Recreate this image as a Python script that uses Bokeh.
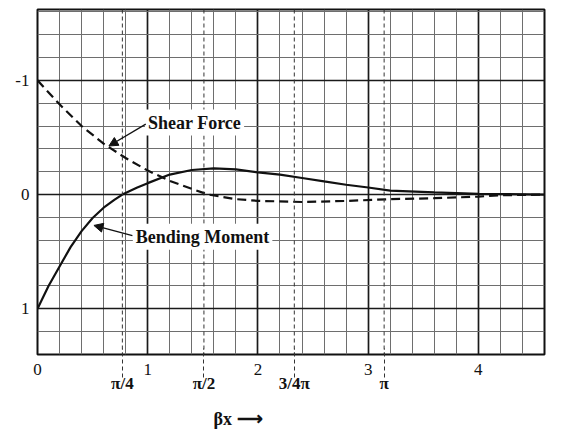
from bokeh.plotting import figure
from bokeh.models import (Range1d, FixedTicker, Label, Arrow, NormalHead,
                          Span, LinearAxis)
from bokeh.embed import file_html
from bokeh.resources import INLINE

# ---- data ----
x_ticks = [0, 1, 2, 3, 4]
x_minor = [0.2, 0.4, 0.6, 0.8, 1.2, 1.4, 1.6, 1.8, 2.2, 2.4, 2.6, 2.8,
           3.2, 3.4, 3.6, 3.8, 4.2, 4.4]
y_ticks = [-1, 0, 1]
y_tick_labels = {-1: "-1", 0: "0", 1: "1"}
y_minor = [-1.6, -1.4, -1.2, -0.8, -0.6, -0.4, -0.2, 0.2, 0.4, 0.6, 0.8, 1.2]

# dashed marker lines as drawn (nominally pi/4, pi/2, 3pi/4, pi)
pi_positions = [0.77, 1.51, 2.33, 3.145]
pi_labels = ["π/4", "π/2", "3/4π", "π"]

axis_title_pos = [1.82]
axis_title = "βx ⟶"

bend_x = [0, 0.1, 0.2, 0.3, 0.4, 0.5, 0.6, 0.7, 0.77, 0.9, 1.0, 1.2, 1.4,
          1.6, 1.8, 2.0, 2.2, 2.4, 2.6, 2.8, 3.0, 3.2, 3.6, 4.0, 4.6]
bend_y = [1.0, 0.80, 0.63, 0.46, 0.32, 0.205, 0.115, 0.045, 0.0, -0.06,
          -0.10, -0.175, -0.215, -0.23, -0.22, -0.195, -0.174, -0.145,
          -0.115, -0.086, -0.062, -0.035, -0.02, -0.006, 0.0]

shear_x = [0, 0.2, 0.4, 0.6, 0.8, 1.0, 1.2, 1.4, 1.55, 1.8, 2.0, 2.4, 2.8,
           3.2, 3.6, 4.0, 4.2, 4.6]
shear_y = [-1.0, -0.79, -0.60, -0.445, -0.32, -0.21, -0.12, -0.05, 0.0, 0.04,
           0.055, 0.065, 0.056, 0.04, 0.032, 0.018, 0.006, 0.0]

SERIF = "Liberation Serif"
INK = "#111111"

p = figure(width=587, height=432, x_range=Range1d(0, 4.6),
           y_range=Range1d(1.4, -1.62), output_backend="svg",
           toolbar_location=None, min_border_left=37, min_border_right=43,
           min_border_top=9, min_border_bottom=78)
p.background_fill_color = "white"
p.border_fill_color = "white"
p.outline_line_color = INK
p.outline_line_width = 2

# grids
p.xgrid.ticker = FixedTicker(ticks=x_ticks, minor_ticks=x_minor)
p.ygrid.ticker = FixedTicker(ticks=y_ticks, minor_ticks=y_minor)
for g in (p.xgrid, p.ygrid):
    g.grid_line_color = "#1a1a1a"
    g.grid_line_width = 1.7
    g.grid_line_alpha = 1.0
    g.minor_grid_line_color = "#6e6e6e"
    g.minor_grid_line_width = 1


def style_axis(ax):
    ax.axis_line_color = None
    ax.major_tick_out = 0
    ax.major_tick_in = 0
    ax.minor_tick_out = 0
    ax.minor_tick_in = 0
    ax.major_label_text_font = SERIF
    ax.major_label_text_font_size = "17px"
    ax.major_label_text_color = INK


# integer axis (closest to the frame)
xa = p.below[0]
xa.ticker = FixedTicker(ticks=x_ticks)
style_axis(xa)
xa.major_label_standoff = 9

ya = p.left[0]
ya.ticker = FixedTicker(ticks=y_ticks)
ya.major_label_overrides = y_tick_labels
style_axis(ya)
ya.major_label_standoff = 8

# pi axis: dashed ticks reaching up to the frame, bold labels
pa = LinearAxis(ticker=FixedTicker(ticks=pi_positions),
                major_label_overrides=dict(zip(pi_positions, pi_labels)))
style_axis(pa)
pa.major_label_text_font_style = "bold"
pa.major_tick_in = 29
pa.major_tick_line_dash = "4 3"
pa.major_tick_line_color = "#333333"
pa.major_tick_line_width = 1
pa.major_label_standoff = -4
p.add_layout(pa, "below")

# axis title row
ta = LinearAxis(ticker=FixedTicker(ticks=axis_title_pos),
                major_label_overrides={axis_title_pos[0]: axis_title})
style_axis(ta)
ta.major_label_text_font_style = "bold"
ta.major_label_text_font_size = "18px"
ta.major_label_standoff = 13
p.add_layout(ta, "below")

# dashed verticals inside the frame
for xp in pi_positions:
    p.add_layout(Span(location=xp, dimension="height", line_dash="4 3",
                      line_color="#333333", line_width=1))

# curves
p.line(shear_x, shear_y, line_color=INK, line_width=2.2, line_dash="9 5")
p.line(bend_x, bend_y, line_color=INK, line_width=2.2)

# annotations
p.add_layout(Label(x=0.975, y=-0.63, text="Shear Force", text_align="left",
                   text_baseline="middle", text_font=SERIF,
                   text_font_style="bold", text_font_size="18px",
                   text_color=INK, background_fill_color="white",
                   padding=3))
p.add_layout(Arrow(x_start=0.982, y_start=-0.617, x_end=0.648, y_end=-0.425,
                   line_width=1.3, line_color=INK,
                   end=NormalHead(size=9, fill_color=INK, line_color=INK)))
p.add_layout(Label(x=0.865, y=0.37, text="Bending Moment", text_align="left",
                   text_baseline="middle", text_font=SERIF,
                   text_font_style="bold", text_font_size="18px",
                   text_color=INK, background_fill_color="white",
                   padding=3))
p.add_layout(Arrow(x_start=0.861, y_start=0.359, x_end=0.512, y_end=0.270,
                   line_width=1.3, line_color=INK,
                   end=NormalHead(size=9, fill_color=INK, line_color=INK)))

open("out.html", "w").write(file_html(p, INLINE))
